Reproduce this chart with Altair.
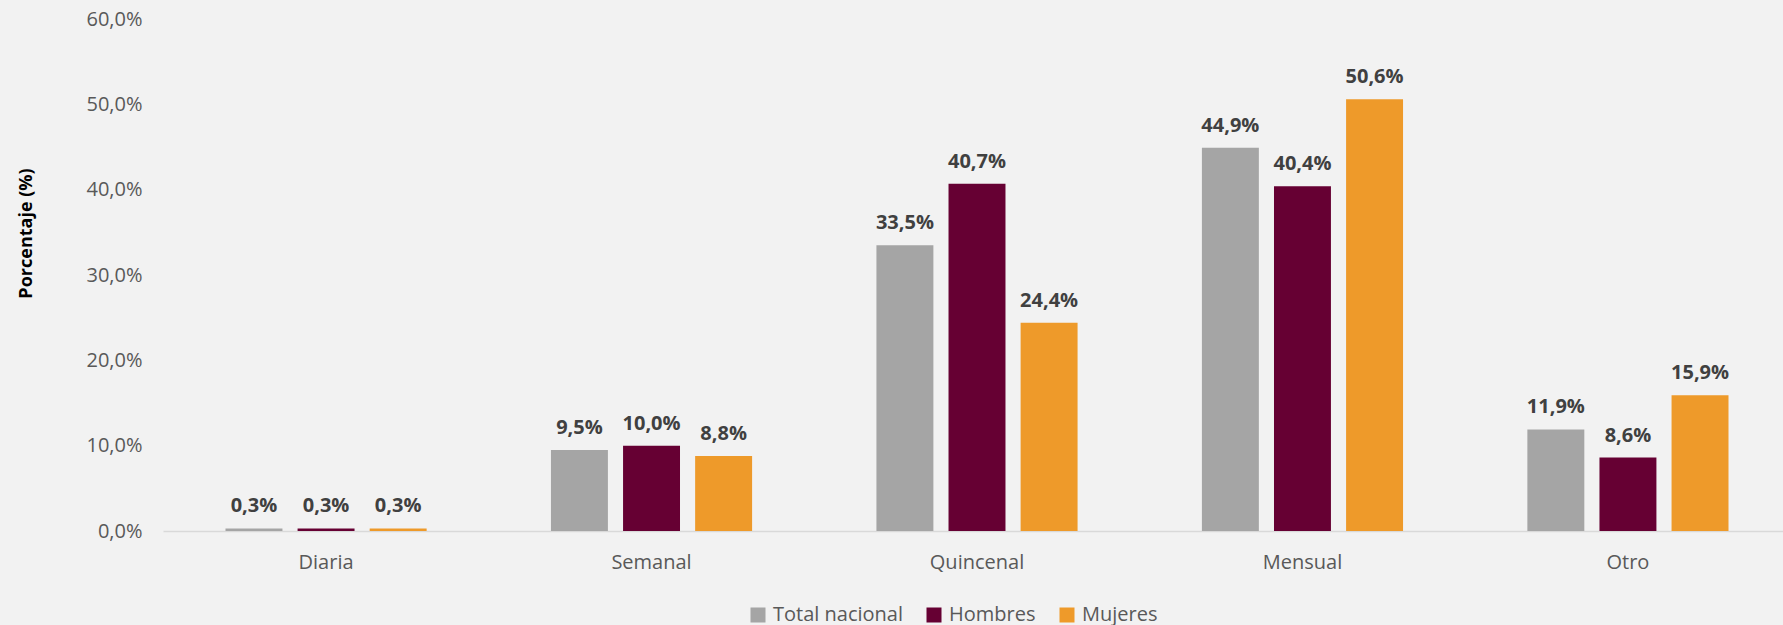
import altair as alt
import pandas as pd

categories = ["Diaria", "Semanal", "Quincenal", "Mensual", "Otro"]
series = ["Total nacional", "Hombres", "Mujeres"]
total = [0.3, 9.5, 33.5, 44.9, 11.9]
hombres = [0.3, 10.0, 40.7, 40.4, 8.6]
mujeres = [0.3, 8.8, 24.4, 50.6, 15.9]
colors = ["#A5A5A5", "#660033", "#EE9A2A"]
y_ticks = [0, 10, 20, 30, 40, 50, 60]

rows = []
for s, vals in zip(series, [total, hombres, mujeres]):
    for c, v in zip(categories, vals):
        rows.append({"cat": c, "serie": s, "val": v,
                     "lab": f"{v:.1f}".replace(".", ",") + "%"})
df = pd.DataFrame(rows)

FONT = "Open Sans"

# page background: the whole page is light grey in the reference
try:
    import altair.utils.html as _h
    for _key, _tpl in list(_h.TEMPLATES.items()):
        _orig = _tpl.render

        def _render(*a, _o=_orig, **k):
            return _o(*a, **k).replace(
                "<style>",
                "<style>\n    body { background: #F2F2F2; margin: 0; overflow: hidden; }\n",
                1)
        _tpl.render = _render
except Exception:
    pass

x = alt.X("cat:N", sort=categories, title=None,
          scale=alt.Scale(paddingInner=0.382, paddingOuter=0.192, range=[0, 1628],
                          round=False),
          axis=alt.Axis(labelAngle=0, labelFontSize=20, labelColor="#595959",
                        labelFont=FONT, labelPadding=21, ticks=False,
                        domainColor="#D9D9D9", domainWidth=1.5))
xo = alt.XOffset("serie:N", sort=series,
                 scale=alt.Scale(paddingInner=0.21, paddingOuter=0, round=False))
y = alt.Y("val:Q", title="Porcentaje (%)",
          scale=alt.Scale(domain=[0, 60], nice=False),
          axis=alt.Axis(values=y_ticks, grid=False, domain=False, ticks=False,
                        labelExpr="replace(format(datum.value, '.1f'), '.', ',') + '%'",
                        labelFontSize=20, labelColor="#595959", labelFont=FONT,
                        labelPadding=21, titleFont=FONT, titleFontSize=18,
                        titleFontWeight="bold", titleColor="#000000",
                        titleX=-128, titleY=214))

color = alt.Color("serie:N", sort=series,
                  scale=alt.Scale(domain=series, range=colors),
                  legend=alt.Legend(title=None, orient="none", direction="horizontal",
                                    legendX=585, legendY=586,
                                    symbolType="square", symbolSize=225,
                                    symbolStrokeWidth=0, labelFontSize=20,
                                    labelColor="#595959", labelFont=FONT,
                                    labelOffset=5, columnPadding=21))

bars = alt.Chart(df).mark_bar().encode(x=x, xOffset=xo, y=y, color=color)
text = alt.Chart(df).mark_text(baseline="alphabetic", dy=-16, fontSize=20,
                               fontWeight="bold", color="#404040", font=FONT).encode(
    x=alt.X("cat:N", sort=categories), xOffset=alt.XOffset("serie:N", sort=series),
    y="val:Q", text="lab:N")

chart = alt.layer(bars, text).properties(
    width=1600, height=512,
    background="#F2F2F2",
    autosize=alt.AutoSizeParams(type="none"),
    padding={"left": 163, "top": 19, "right": 20, "bottom": 115},
).configure_view(stroke=None)

chart.save("out.html", embed_options={"renderer": "svg", "actions": False})
